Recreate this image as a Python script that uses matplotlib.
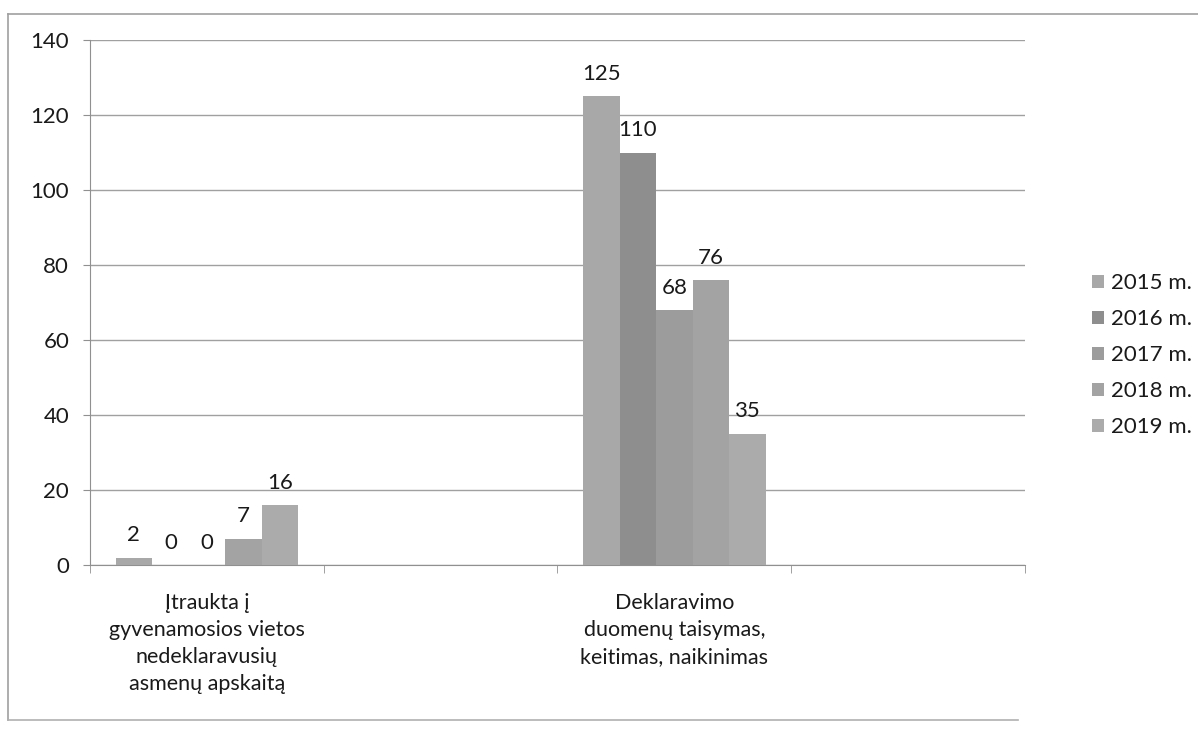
import matplotlib.pyplot as plt
import numpy as np
from matplotlib.lines import Line2D

categories = ["Įtraukta į\ngyvenamosios vietos\nnedeklaravusių\nasmenų apskaitą", "",
              "Deklaravimo\nduomenų taisymas,\nkeitimas, naikinimas", ""]
years = ["2015 m.", "2016 m.", "2017 m.", "2018 m.", "2019 m."]
values = {
    "2015 m.": [2, None, 125, None],
    "2016 m.": [0, None, 110, None],
    "2017 m.": [0, None, 68, None],
    "2018 m.": [7, None, 76, None],
    "2019 m.": [16, None, 35, None],
}
colors = ["#a8a8a8", "#8e8e8e", "#9c9c9c", "#a3a3a3", "#ababab"]

plt.rcParams['font.family'] = ['Lato', 'DejaVu Sans']

fig = plt.figure(figsize=(11.98, 7.3), dpi=100)
ax = fig.add_axes([0.0751, 0.226, 0.7805, 0.719])

x = np.arange(len(categories))
w = 0.156
for i, yr in enumerate(years):
    vals = values[yr]
    xs = [x[j] + (i - 2) * w for j in range(len(vals)) if vals[j] is not None]
    vs = [v for v in vals if v is not None]
    bars = ax.bar(xs, vs, width=w, color=colors[i], label=yr, zorder=3)
    for b, v in zip(bars, vs):
        ax.annotate(str(v), (b.get_x() + b.get_width() / 2, v), xytext=(0, 9),
                    textcoords="offset points", ha="center", va="bottom",
                    fontsize=16, color="#1a1a1a")

ax.set_xlim(-0.5, 3.5)
ax.set_ylim(0, 140)
ax.set_yticks(range(0, 141, 20))
ax.yaxis.grid(True, color="#a0a0a0", linewidth=1)
ax.set_axisbelow(True)

ax.set_xticks(x)
ax.set_xticklabels(categories, fontsize=15.5, color="#1a1a1a", linespacing=1.45)
ax.set_xticks(np.arange(-0.5, 4.0, 1.0), minor=True)
ax.tick_params(axis="x", which="major", length=0, pad=20)
ax.tick_params(axis="x", which="minor", length=6, color="#909090", direction="out")
ax.tick_params(axis="y", length=5, color="#909090", labelsize=16, labelcolor="#1a1a1a", pad=10)

for s in ["top", "right"]:
    ax.spines[s].set_visible(False)
for s in ["left", "bottom"]:
    ax.spines[s].set_color("#909090")

ax.legend(loc="center left", bbox_to_anchor=(1.05, 0.40), frameon=False, fontsize=16,
          handlelength=0.55, handleheight=0.55, handletextpad=0.3, labelspacing=0.72,
          labelcolor="#1a1a1a")

# outer chart frame
fw, fh = 1198, 730
fig.add_artist(Line2D([8 / fw, 1.0], [1 - 14 / fh, 1 - 14 / fh], transform=fig.transFigure, color="#a0a0a0", lw=1.2))
fig.add_artist(Line2D([8 / fw, 8 / fw], [1 - 14 / fh, 1 - 720 / fh], transform=fig.transFigure, color="#a0a0a0", lw=1.2))
fig.add_artist(Line2D([8 / fw, 0.85], [1 - 720 / fh, 1 - 720 / fh], transform=fig.transFigure, color="#b0b0b0", lw=1.2))

fig.savefig("out.png", dpi=100)
